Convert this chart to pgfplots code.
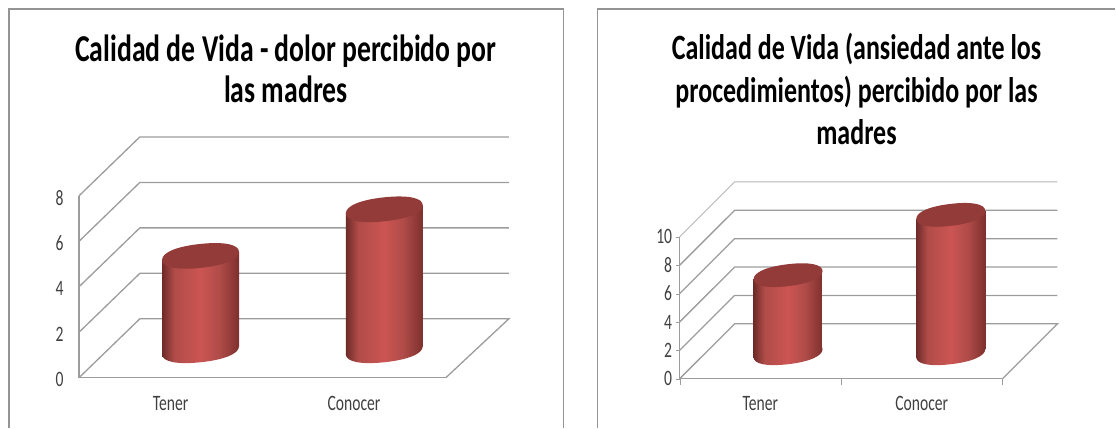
\documentclass[border=0pt]{standalone}
\usepackage{fontspec}
\usepackage{pgfplots}
\usepackage{pgfplotstable}
\pgfplotsset{compat=1.18}
\setmainfont{Carlito}
\newfontfamily\titlefont[FakeStretch=0.73]{Carlito}
\newfontfamily\tickfont[FakeStretch=0.71]{Carlito}

\definecolor{gridgray}{HTML}{9C9C9C}
\definecolor{framegray}{HTML}{949494}
\definecolor{capred}{HTML}{933B38}
\definecolor{cylA}{HTML}{6E2B29}
\definecolor{cylB}{HTML}{B04C49}
\definecolor{cylC}{HTML}{CB5552}
\definecolor{cylD}{HTML}{7E302D}

\pgfdeclarehorizontalshading{cyl}{100bp}{color(0bp)=(cylA); color(25bp)=(cylA); color(33bp)=(cylB); color(50bp)=(cylC); color(62bp)=(cylB); color(75bp)=(cylD); color(100bp)=(cylD)}

% tilted ellipse as four curves: #1 half width, #2 half height, #3 skew (px)
\newcommand{\tiltedellipse}[3]{
  ({#1*1pt},{#3*1pt})
  .. controls ({#1*1pt},{(#3+0.62*#2)*1pt}) and ({0.62*#1*1pt},{(#2+0.62*#3)*1pt}) .. (0pt,{#2*1pt})
  .. controls ({-0.62*#1*1pt},{(#2-0.62*#3)*1pt}) and ({-#1*1pt},{(-#3+0.62*#2)*1pt}) .. ({-#1*1pt},{-#3*1pt})
  .. controls ({-#1*1pt},{(-#3-0.62*#2)*1pt}) and ({-0.62*#1*1pt},{(-#2-0.62*#3)*1pt}) .. (0pt,{-#2*1pt})
  .. controls ({0.62*#1*1pt},{(-#2+0.62*#3)*1pt}) and ({#1*1pt},{(#3-0.62*#2)*1pt}) .. cycle
}
\newcommand{\cylmarks}[4]{%
  \pgfdeclareplotmark{top#1}{\path[draw=none,fill=capred] \tiltedellipse{#2}{#3}{#4};}%
  \pgfdeclareplotmark{bot#1}{\path[draw=none,shading=cyl] \tiltedellipse{#2}{#3}{#4};}%
}
\cylmarks{A}{38.5}{12}{4}
\cylmarks{B}{34.5}{11}{4}

\pgfplotsset{
  panel/.style={
    scale only axis, clip=false,
    axis lines=left, axis line style={-,gridgray,line width=1.3pt},
    xmin=-0.5, xmax=1.5, ymin=0,
    xtick={0,1}, xticklabels={Tener,Conocer},
    ticklabel style={font=\tickfont\fontsize{22}{24}\selectfont,text=black!75},
    /pgf/number format/assume math mode=true,
    title style={align=center,anchor=center},
  },
  wall/.style={gridgray,line width=1.3pt,no marks,forget plot},
  body/.style={shading=cyl,draw=none,no marks,forget plot},
}

\pgfplotstableread{
x v
0.163 4.15
1.165 6.2
}\dolor
\pgfplotstableread{
x v
0.172 5.5
1.18 9.75
}\ansiedad

\begin{document}
\begin{tikzpicture}[x=1pt,y=1pt]
\path (0,0) rectangle (1116,428);
\draw[framegray,line width=1.3pt] (9,0) -- (9,419) -- (563.5,419) -- (563.5,0);
\draw[framegray,line width=1.3pt] (598,0) -- (598,419) -- (1116,419);

\begin{axis}[panel, at={(79pt,50pt)}, anchor=south west, width=367pt, height=182pt,
  ymax=8, ytick={0,2,4,6,8}, major tick length=0pt,
  xticklabel style={yshift=-15pt}, yticklabel style={xshift=-12pt,yshift=-2pt},
  title={Calidad de Vida - dolor percibido por\\las madres},
  title style={at={(0.564,1.665)},font=\titlefont\bfseries\fontsize{38}{41}\selectfont},
]
  % walls: front tick level, back corner, back right
  \addplot[wall] coordinates {(-0.5,0)(-0.168,2.593)(1.844,2.593)(1.5,0)};
  \addplot[wall] coordinates {(-0.5,2)(-0.168,4.593)(1.844,4.593)};
  \addplot[wall] coordinates {(-0.5,4)(-0.168,6.593)(1.844,6.593)};
  \addplot[wall] coordinates {(-0.5,6)(-0.168,8.593)(1.844,8.593)};
  \addplot[wall] coordinates {(-0.5,8)(-0.168,10.593)(1.844,10.593)};
  % cylinders, baseline 1.21 above the front edge
  \addplot[only marks,mark=botA,forget plot] table[x=x,y expr=1.21] {\dolor};
  \addplot[body] coordinates {(-0.047,1.034)(0.373,1.386)(0.373,5.536)(-0.047,5.184)} -- cycle;
  \addplot[body] coordinates {(0.955,1.034)(1.375,1.386)(1.375,7.586)(0.955,7.234)} -- cycle;
  \addplot[only marks,mark=topA,forget plot] table[x=x,y expr=\thisrow{v}+1.21] {\dolor};
\end{axis}

\begin{axis}[panel, at={(680pt,49pt)}, anchor=south west, width=323pt, height=142pt,
  ymax=10, ytick={0,2,4,6,8,10}, tick align=outside,
  major tick length=4pt, major x tick style={draw=none},
  minor xtick={-0.5,0.5,1.5}, minor tick length=6pt, minor tick style={gridgray},
  ytick style={gridgray},
  xticklabel style={yshift=-10pt}, yticklabel style={xshift=0pt},
  title={Calidad de Vida (ansiedad ante los\\procedimientos) percibido por las\\madres},
  title style={at={(0.548,2.0)},font=\titlefont\bfseries\fontsize{35.6}{42.5}\selectfont},
]
  \addplot[wall] coordinates {(-0.5,0)(-0.159,3.873)(1.841,3.873)(1.5,0)};
  \addplot[wall] coordinates {(-0.5,2)(-0.159,5.873)(1.841,5.873)};
  \addplot[wall] coordinates {(-0.5,4)(-0.159,7.873)(1.841,7.873)};
  \addplot[wall] coordinates {(-0.5,6)(-0.159,9.873)(1.841,9.873)};
  \addplot[wall] coordinates {(-0.5,8)(-0.159,11.873)(1.841,11.873)};
  \addplot[wall,line width=0.8pt,gridgray!75] coordinates {(-0.5,10)(-0.159,13.873)(1.841,13.873)};
  \addplot[only marks,mark=botB,forget plot] table[x=x,y expr=1.8] {\ansiedad};
  \addplot[body] coordinates {(-0.042,1.52)(0.386,2.08)(0.386,7.58)(-0.042,7.02)} -- cycle;
  \addplot[body] coordinates {(0.966,1.52)(1.394,2.08)(1.394,11.83)(0.966,11.27)} -- cycle;
  \addplot[only marks,mark=topB,forget plot] table[x=x,y expr=\thisrow{v}+1.8] {\ansiedad};
\end{axis}
\end{tikzpicture}
\end{document}
